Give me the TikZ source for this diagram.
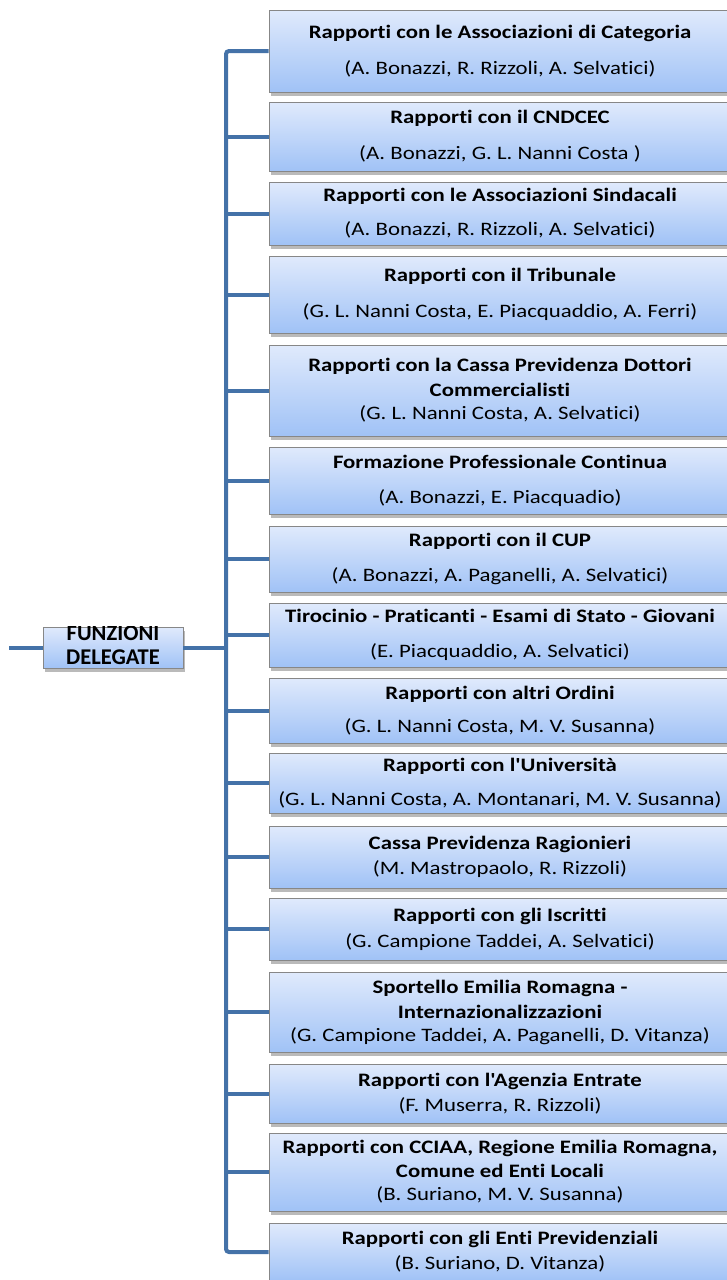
\documentclass[tikz,border=0pt]{standalone}
\usepackage{fontspec}
\setmainfont{Carlito}[FakeStretch=1.2, Ligatures={TeXOff,NoCommon}]
\newfontfamily\rootfont{Carlito}[Ligatures={TeXOff,NoCommon}]
\usetikzlibrary{shadows}
\definecolor{busblue}{RGB}{68,114,168}
\definecolor{boxtop}{RGB}{224,234,252}
\definecolor{boxbot}{RGB}{160,194,246}
\definecolor{boxline}{RGB}{135,135,135}
\tikzset{
  x=1pt, y=-1pt,
  itembox/.style={draw=boxline, line width=0.8pt, top color=boxtop, bottom color=boxbot,
    minimum width=462pt, inner sep=0pt, align=center,
    font=\fontsize{19}{21}\selectfont,
    drop shadow={shadow xshift=1.5pt, shadow yshift=-3.5pt, opacity=0.45, fill=black!60}},
  rootbox/.style={draw=boxline, line width=0.8pt, top color=boxtop, bottom color=boxbot,
    minimum width=140pt, minimum height=41pt, inner sep=0pt,
    drop shadow={shadow xshift=1.5pt, shadow yshift=-3.5pt, opacity=0.45, fill=black!60}},
  roottext/.style={align=center, inner sep=0pt, font=\rootfont\fontsize{22.5}{24}\selectfont\bfseries},
  bus/.style={draw=busblue, line width=4pt},
}
\begin{document}
\begin{tikzpicture}
\useasboundingbox (0,0) rectangle (726,1280);
% boxes: center y = (top+bottom)/2, height = bottom - top
\node[itembox, minimum height=82pt] (b1) at (500,51) {\textbf{Rapporti con le Associazioni di Categoria}\\[15pt](A. Bonazzi, R. Rizzoli, A. Selvatici)};
\node[itembox, minimum height=69pt] (b2) at (500,136.5) {\textbf{Rapporti con il CNDCEC}\\[15pt](A. Bonazzi, G. L. Nanni Costa )};
\node[itembox, minimum height=63pt] (b3) at (500,213.5) {\textbf{Rapporti con le Associazioni Sindacali}\\[13pt](A. Bonazzi, R. Rizzoli, A. Selvatici)};
\node[itembox, minimum height=77pt] (b4) at (500,294.5) {\textbf{Rapporti con il Tribunale}\\[15pt](G. L. Nanni Costa, E. Piacquaddio, A. Ferri)};
\node[itembox, minimum height=91pt] (b5) at (500,390.5) {\textbf{Rapporti con la Cassa Previdenza Dottori}\\[4pt]\textbf{Commercialisti}\\[2pt](G. L. Nanni Costa, A. Selvatici)};
\node[itembox, minimum height=67pt] (b6) at (500,480.5) {\textbf{Formazione Professionale Continua}\\[14pt](A. Bonazzi, E. Piacquadio)};
\node[itembox, minimum height=66pt] (b7) at (500,559) {\textbf{Rapporti con il CUP}\\[14pt](A. Bonazzi, A. Paganelli, A. Selvatici)};
\node[itembox, minimum height=64pt] (b8) at (500,635) {\textbf{Tirocinio - Praticanti - Esami di Stato - Giovani}\\[14pt](E. Piacquaddio, A. Selvatici)};
\node[itembox, minimum height=65pt] (b9) at (500,710.5) {\textbf{Rapporti con altri Ordini}\\[12pt](G. L. Nanni Costa, M. V. Susanna)};
\node[itembox, minimum height=60pt] (b10) at (500,783) {\textbf{Rapporti con l'Università}\\[13pt](G. L. Nanni Costa, A. Montanari, M. V. Susanna)};
\node[itembox, minimum height=62pt] (b11) at (500,857) {\textbf{Cassa Previdenza Ragionieri}\\[4pt](M. Mastropaolo, R. Rizzoli)};
\node[itembox, minimum height=62pt] (b12) at (500,929) {\textbf{Rapporti con gli Iscritti}\\[5pt](G. Campione Taddei, A. Selvatici)};
\node[itembox, minimum height=80pt] (b13) at (500,1012) {\textbf{Sportello Emilia Romagna -}\\[4pt]\textbf{Internazionalizzazioni}\\[2pt](G. Campione Taddei, A. Paganelli, D. Vitanza)};
\node[itembox, minimum height=59pt] (b14) at (500,1093.5) {\textbf{Rapporti con l'Agenzia Entrate}\\[4pt](F. Muserra, R. Rizzoli)};
\node[itembox, minimum height=78pt] (b15) at (500,1172) {\textbf{Rapporti con CCIAA, Regione Emilia Romagna,}\\[3pt]\textbf{Comune ed Enti Locali}\\[2pt](B. Suriano, M. V. Susanna)};
\node[itembox, minimum height=58pt] (b16) at (500,1252) {\textbf{Rapporti con gli Enti Previdenziali}\\[4pt](B. Suriano, D. Vitanza)};
% root
\node[rootbox] (root) at (113,647.5) {};
\begin{scope}
\clip (root.north west) rectangle (root.south east);
\node[roottext] (rootlabel) at (113,645.5) {FUNZIONI\\DELEGATE};
\end{scope}
\coordinate (bustop) at (226,51);
\coordinate (busbot) at (226,1252);
\coordinate (stub) at (9,647.5);
% connectors
\draw[bus, rounded corners=3pt] (b1.west) -- (bustop) -- (busbot) -- (b16.west);
\foreach \n in {b2,b3,b4,b5,b6,b7,b8,b9,b10,b11,b12,b13,b14,b15}
  \draw[bus] (\n.west) -- (\n.west -| bustop);
\draw[bus] (root.east) -- (root.east -| bustop);
\draw[bus] (stub) -- (root.west);
\end{tikzpicture}
\end{document}
